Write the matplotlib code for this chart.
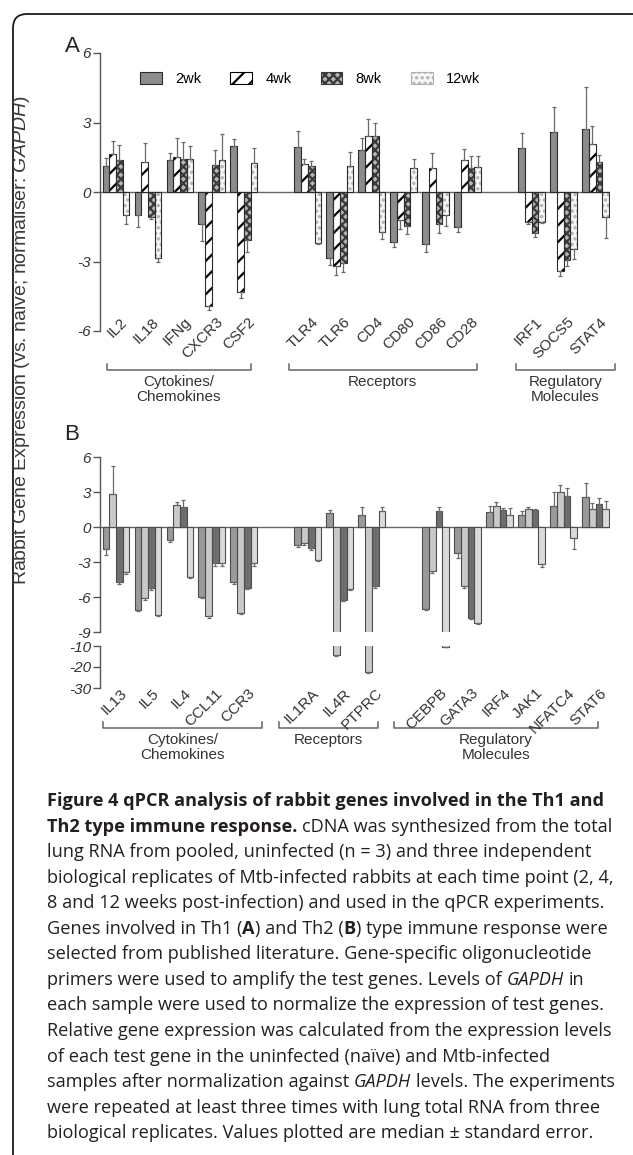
import numpy as np
import matplotlib
matplotlib.use('Agg')
import matplotlib.pyplot as plt
from matplotlib.patches import FancyBboxPatch, Patch
from matplotlib.transforms import blended_transform_factory as blend

W, H = 633, 1155

weeks = ['2wk', '4wk', '8wk', '12wk']

# Panel A - Th1 genes
groups_a = ['Cytokines/\nChemokines', 'Receptors', 'Regulatory\nMolecules']
genes_a = [['IL2', 'IL18', 'IFNg', 'CXCR3', 'CSF2'],
           ['TLR4', 'TLR6', 'CD4', 'CD80', 'CD86', 'CD28'],
           ['IRF1', 'SOCS5', 'STAT4']]
a_2wk = [1.13, -1.01, 1.36, -1.37, 2.00, 1.96, -2.86, 1.81, -2.14, -2.26, -1.50, 1.89, 2.57, 2.74]
a_4wk = [1.64, 1.31, 1.50, -4.94, -4.33, 1.20, -3.21, 2.43, -1.21, 1.04, 1.40, -1.29, -3.39, 2.07]
a_8wk = [1.39, -1.07, 1.41, 1.17, -2.09, 1.13, -3.07, 2.40, -1.47, -1.36, 1.04, -1.76, -2.93, 1.29]
a_12wk = [-1.01, -2.86, 1.43, 1.39, 1.24, -2.19, 1.14, -1.71, 1.03, -1.00, 1.10, -1.29, -2.47, -1.07]
a_2wk_se = [0.33, 0.49, 0.34, 0.74, 0.27, 0.68, 0.31, 0.52, 0.22, 0.31, 0.21, 0.64, 1.10, 1.79]
a_4wk_se = [0.57, 0.82, 0.84, 0.17, 0.24, 0.23, 0.36, 0.71, 0.40, 0.63, 0.44, 0.07, 0.25, 0.79]
a_8wk_se = [0.64, 0.10, 0.75, 0.64, 0.48, 0.20, 0.40, 0.60, 0.34, 0.43, 0.52, 0.20, 0.28, 0.32]
a_12wk_se = [0.39, 0.18, 0.57, 1.11, 0.65, 0.05, 0.57, 0.33, 0.40, 0.47, 0.44, 0.05, 0.43, 0.93]

# Panel B - Th2 genes
groups_b = ['Cytokines/\nChemokines', 'Receptors', 'Regulatory\nMolecules']
genes_b = [['IL13', 'IL5', 'IL4', 'CCL11', 'CCR3'],
           ['IL1RA', 'IL4R', 'PTPRC'],
           ['CEBPB', 'GATA3', 'IRF4', 'JAK1', 'NFATC4', 'STAT6']]
b_2wk = [-1.89, -7.09, -1.14, -6.00, -4.74, -1.51, 1.21, 0.99, -7.03, -2.20, 1.27, 1.07, 1.83, 2.54]
b_4wk = [2.85, -6.09, 1.86, -7.66, -7.37, -1.37, -14.3, -22.4, -3.80, -5.09, 1.77, 1.58, 3.04, 1.58]
b_8wk = [-4.74, -5.23, 1.69, -3.09, -5.23, -1.80, -6.23, -5.09, 1.41, -7.80, 1.49, 1.49, 2.62, 2.00]
b_12wk = [-3.89, -7.51, -4.29, -3.09, -3.09, -2.86, -5.31, 1.35, -10.5, -8.23, 1.07, -3.15, -0.96, 1.58]
b_2wk_se = [0.48, 0.15, 0.17, 0.10, 0.12, 0.20, 0.23, 0.70, 0.10, 0.45, 0.56, 0.28, 1.13, 1.26]
b_4wk_se = [2.35, 0.15, 0.28, 0.10, 0.10, 0.15, 0.50, 0.50, 0.15, 0.15, 0.40, 0.11, 0.57, 0.48]
b_8wk_se = [0.15, 0.15, 0.65, 0.28, 0.10, 0.20, 0.15, 0.10, 0.28, 0.10, 0.14, 0.09, 0.70, 0.48]
b_12wk_se = [0.11, 0.15, 0.10, 0.28, 0.28, 0.09, 0.12, 0.37, 0.20, 0.10, 0.56, 0.29, 0.93, 0.62]

ylabel = r'Rabbit Gene Expression (vs. naive; normaliser: $\mathit{GAPDH}$)'

caption = [
    [('Figure 4 qPCR analysis of rabbit genes involved in the Th1 and', 'b')],
    [('Th2 type immune response.', 'b'), (' cDNA was synthesized from the total', 'r')],
    [('lung RNA from pooled, uninfected (n = 3) and three independent', 'r')],
    [('biological replicates of Mtb-infected rabbits at each time point (2, 4,', 'r')],
    [('8 and 12 weeks post-infection) and used in the qPCR experiments.', 'r')],
    [('Genes involved in Th1 (', 'r'), ('A', 'b'), (') and Th2 (', 'r'), ('B', 'b'),
     (') type immune response were', 'r')],
    [('selected from published literature. Gene-specific oligonucleotide', 'r')],
    [('primers were used to amplify the test genes. Levels of', 'r'), (' GAPDH', 'i'), (' in', 'r')],
    [('each sample were used to normalize the expression of test genes.', 'r')],
    [('Relative gene expression was calculated from the expression levels', 'r')],
    [('of each test gene in the uninfected (naïve) and Mtb-infected', 'r')],
    [('samples after normalization against', 'r'), (' GAPDH', 'i'), (' levels. The experiments', 'r')],
    [('were repeated at least three times with lung total RNA from three', 'r')],
    [('biological replicates. Values plotted are median ± standard error.', 'r')],
]

plt.rcParams['font.family'] = ['Liberation Sans', 'DejaVu Sans']
plt.rcParams['mathtext.fontset'] = 'custom'
plt.rcParams['mathtext.rm'] = 'Liberation Sans'
plt.rcParams['mathtext.it'] = 'Liberation Sans:italic'
plt.rcParams['hatch.linewidth'] = 1.6

fig = plt.figure(figsize=(W / 100, H / 100), dpi=100)
ov = fig.add_axes([0, 0, 1, 1])
ov.set_xlim(0, W)
ov.set_ylim(H, 0)
ov.axis('off')


def box(l, t, r, b):
    return [l / W, 1 - b / H, (r - l) / W, (b - t) / H]


def positions(groups):
    # one empty slot between gene groups
    pos, start = [], 0
    for g in groups:
        pos += [start + i for i in range(len(g))]
        start += len(g) + 1
    return pos


ax_a = fig.add_axes(box(100, 53, 610, 331))
ax_b = fig.add_axes(box(100, 457, 610, 632))
ax_c = fig.add_axes(box(100, 646, 610, 688))

bw = 0.21
styles_a = [dict(fc='#8c8c8c', hatch=None, hc=None),
            dict(fc='white', hatch='//', hc='black'),
            dict(fc='#b5b5b5', hatch='xxxx', hc='#3a3a3a'),
            dict(fc='#f7f7f7', hatch='...', hc='#b0b0b0')]
styles_b = [dict(fc=c, hatch=None, hc=None) for c in ['#9a9a9a', '#c9c9c9', '#6e6e6e', '#dadada']]


def draw_bars(ax, pos, series, errs, styles, edge):
    for k, (vals, se, st) in enumerate(zip(series, errs, styles)):
        x = np.array(pos) + (k - 1.5) * bw
        v = np.array(vals)
        e = np.array(se)
        if st['hatch']:
            ax.bar(x, v, bw, color=st['fc'], edgecolor=st['hc'], hatch=st['hatch'],
                   linewidth=0, zorder=2)
        else:
            ax.bar(x, v, bw, color=st['fc'], linewidth=0, zorder=2)
        ax.bar(x, v, bw, fill=False, edgecolor=edge, linewidth=0.8, zorder=3)
        # one-sided error bars, away from zero
        lower = np.where(v < 0, e, 0)
        upper = np.where(v > 0, e, 0)
        ax.errorbar(x, v, yerr=[lower, upper], fmt='none', ecolor='#6a6a6a',
                    elinewidth=0.9, capsize=1.4, capthick=0.9, zorder=4)


def style(ax, ylim, ticks):
    ax.set_xlim(-0.5, 15.45)
    ax.set_ylim(*ylim)
    for s in ['top', 'right', 'bottom']:
        ax.spines[s].set_visible(False)
    ax.spines['left'].set_color('#555555')
    ax.spines['left'].set_linewidth(1)
    ax.set_xticks([])
    ax.set_yticks(ticks)
    ax.set_yticklabels([str(t) for t in ticks], style='italic', fontsize=11, color='#333333')
    ax.tick_params(axis='y', length=5, width=1, color='#555555', pad=1.5)
    ax.patch.set_visible(False)


def gene_labels(ax, pos, genes, ypx):
    tr = blend(ax.transData, ov.transData)
    for p, g in zip(pos, genes):
        ax.text(p + 0.12, ypx, g, transform=tr, rotation=45, rotation_mode='anchor',
                ha='right', va='top', fontsize=11, color='#333333', clip_on=False)


def draw_groups(ax, names, genes, spans, ypx):
    tr = blend(ax.transData, ov.transData)
    pos = positions(genes)
    i = 0
    for name, g, (d0, d1) in zip(names, genes, spans):
        x0 = pos[i] + d0
        x1 = pos[i + len(g) - 1] + d1
        i += len(g)
        ax.plot([x0, x0, x1, x1], [ypx - 6, ypx, ypx, ypx - 6], transform=tr,
                color='#666666', lw=1.1, clip_on=False)
        ax.text((x0 + x1) / 2, ypx + 5, name, transform=tr, ha='center', va='top',
                fontsize=11, linespacing=1.05, color='#333333', clip_on=False)


# panel A
pos_a = positions(genes_a)
draw_bars(ax_a, pos_a, [a_2wk, a_4wk, a_8wk, a_12wk],
          [a_2wk_se, a_4wk_se, a_8wk_se, a_12wk_se], styles_a, '#2b2b2b')
style(ax_a, (-6, 6), [6, 3, 0, -3, -6])
ax_a.axhline(0, color='#666666', lw=1, zorder=1)
gene_labels(ax_a, pos_a, sum(genes_a, []), 315)
draw_groups(ax_a, groups_a, genes_a, [(-0.28, 0.22), (-0.6, 0.28), (-0.5, 0.6)], 370)

handles = [Patch(facecolor=st['fc'], edgecolor=st['hc'] or '#2b2b2b', hatch=st['hatch'],
                 linewidth=0.8) for st in styles_a]
fig.legend(handles, weeks, loc='center left', bbox_to_anchor=(140 / W, 1 - 79 / H), ncol=4,
           frameon=False, fontsize=10.5, handlelength=1.5, handleheight=0.9, handletextpad=0.9,
           columnspacing=2.0, borderpad=0, borderaxespad=0)

# panel B (broken axis)
pos_b = positions(genes_b)
series_b = [b_2wk, b_4wk, b_8wk, b_12wk]
errs_b = [b_2wk_se, b_4wk_se, b_8wk_se, b_12wk_se]
for ax in (ax_b, ax_c):
    draw_bars(ax, pos_b, series_b, errs_b, styles_b, '#4d4d4d')
style(ax_b, (-9, 6), [6, 3, 0, -3, -6, -9])
style(ax_c, (-30, -10), [-10, -20, -30])
ax_b.axhline(0, color='#666666', lw=1, zorder=1)
gene_labels(ax_c, pos_b, sum(genes_b, []), 686)
draw_groups(ax_c, groups_b, genes_b, [(-0.4, 0.56), (-0.9, 0.2), (-1.3, 0.06)], 728)

# panel letters and shared y label
ov.text(72, 46, 'A', fontsize=16, ha='center', va='center', color='#222222')
ov.text(72, 434, 'B', fontsize=16, ha='center', va='center', color='#222222')
ov.text(22, 340, ylabel, rotation=90, ha='center', va='center', fontsize=14, color='#3a3a3a')

# frame
ov.add_patch(FancyBboxPatch((13, 14), 800, 1400, boxstyle='round,pad=0,rounding_size=14',
                            fill=False, ec='#1a1a1a', lw=1.3))

# caption
renderer = fig.canvas.get_renderer()
fonts = {'r': dict(family='Open Sans'),
         'b': dict(family='Open Sans', weight='bold'),
         'i': dict(family='Open Sans', style='italic')}
probe = ov.text(0, 0, caption[9][0][0], fontsize=11, **fonts['r'])
fs = 11 * 565 / probe.get_window_extent(renderer).width
probe.remove()
p1 = ov.text(0, 0, 'n n', fontsize=fs, **fonts['r'])
p2 = ov.text(0, 0, 'nn', fontsize=fs, **fonts['r'])
space = p1.get_window_extent(renderer).width - p2.get_window_extent(renderer).width
p1.remove()
p2.remove()

for li, runs in enumerate(caption):
    x = 47
    y = 806 + 25.55 * li
    for txt, kind in runs:
        if txt.startswith(' '):
            x += space
            txt = txt.lstrip()
        t = ov.text(x, y, txt, fontsize=fs, va='baseline', ha='left', color='#231f20', **fonts[kind])
        x += t.get_window_extent(renderer).width

fig.savefig('out.png', dpi=100)
